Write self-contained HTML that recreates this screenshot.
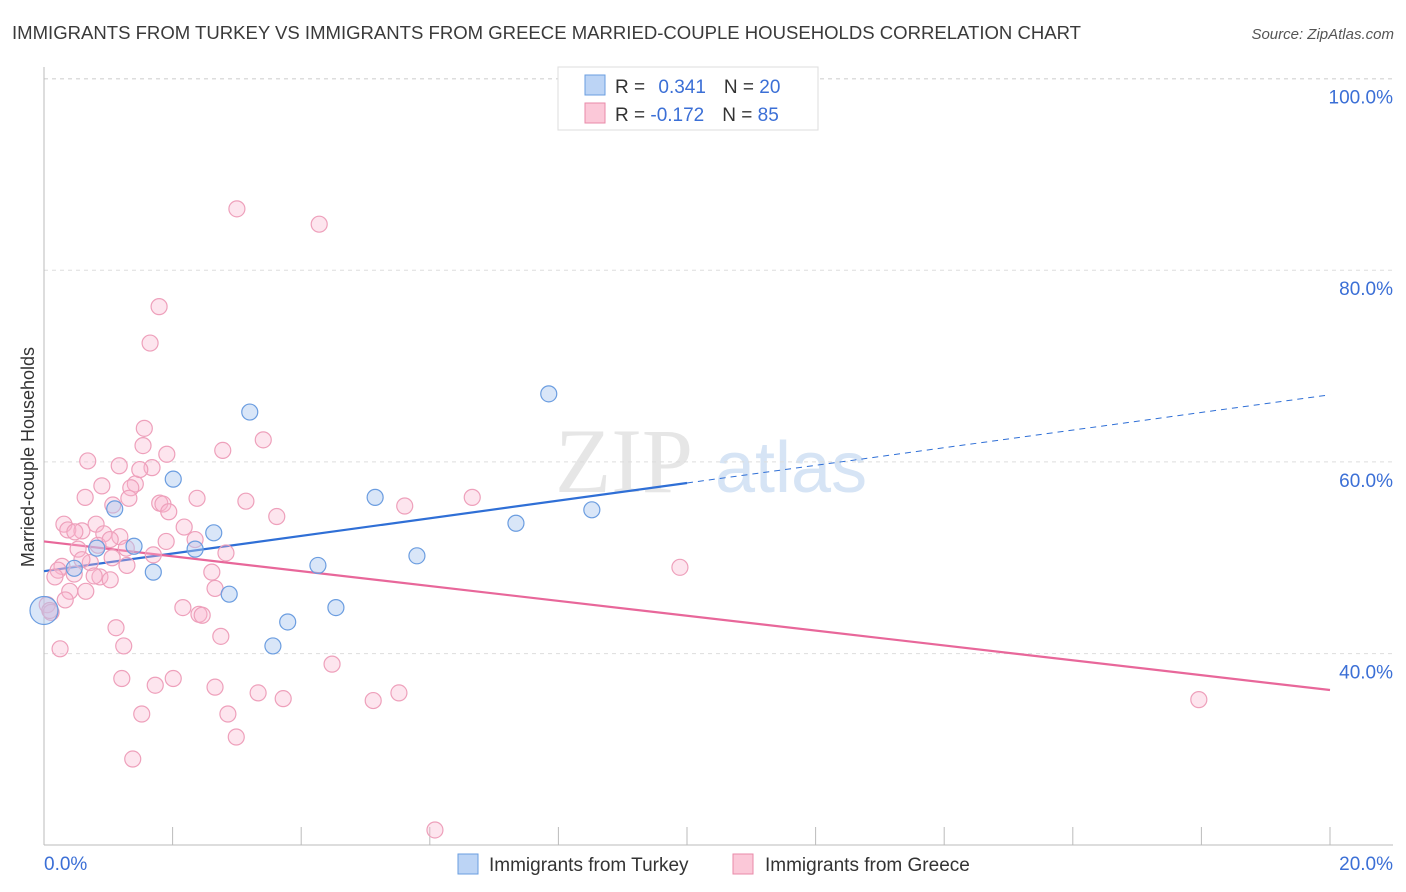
<!DOCTYPE html>
<html><head><meta charset="utf-8"><style>
body{margin:0;background:#fff;font-family:"Liberation Sans",sans-serif;}
svg{display:block}
</style></head><body>
<svg id="chart" width="1406" height="892" xmlns="http://www.w3.org/2000/svg">
<text x="12" y="39" font-size="18" fill="#3a3a3a" textLength="1069" lengthAdjust="spacingAndGlyphs">IMMIGRANTS FROM TURKEY VS IMMIGRANTS FROM GREECE MARRIED-COUPLE HOUSEHOLDS CORRELATION CHART</text>
<text x="1394" y="39" font-size="15" fill="#555" text-anchor="end" font-style="italic">Source: ZipAtlas.com</text>
<text x="555" y="492" font-size="92" fill="#e6e6e6" font-family="Liberation Serif">ZIP</text>
<text x="715" y="492" font-size="72" fill="#d6e4f5">atlas</text>
<g id="grid"></g><g id="axes"></g><g id="lines"></g><g id="pts"></g>
<text transform="translate(34,457) rotate(-90)" font-size="18" fill="#333" text-anchor="middle">Married-couple Households</text>
<g>
<rect x="558" y="67" width="260" height="63" fill="#fff" stroke="#ddd"/>
<rect x="585" y="75" width="20" height="20" fill="#bcd4f5" stroke="#6a9ee0"/>
<rect x="585" y="103" width="20" height="20" fill="#fbc8d8" stroke="#e88aa8"/>
<text x="615" y="93" font-size="19" fill="#333">R = <tspan fill="#3b6fd6" dx="8">0.341</tspan><tspan dx="18" fill="#333">N = </tspan><tspan fill="#3b6fd6">20</tspan></text>
<text x="615" y="121" font-size="19" fill="#333">R = <tspan fill="#3b6fd6">-0.172</tspan><tspan dx="18" fill="#333">N = </tspan><tspan fill="#3b6fd6">85</tspan></text>
</g>
<g>
<rect x="458" y="854" width="20" height="20" fill="#bcd4f5" stroke="#6a9ee0"/>
<text x="489" y="871" font-size="19" fill="#333">Immigrants from Turkey</text>
<rect x="733" y="854" width="20" height="20" fill="#fbc8d8" stroke="#e88aa8"/>
<text x="765" y="871" font-size="19" fill="#333">Immigrants from Greece</text>
</g>
</svg>
<script>
const yTicks=[40,60,80,100];
const yTickLabels=["40.0%","60.0%","80.0%","100.0%"];
const xTicks=[0,2,4,6,8,10,12,14,16,18,20];
const turkeyX=[0,0.47,0.82,1.10,1.40,1.70,2.01,2.35,2.64,2.88,3.20,3.56,3.79,4.26,4.54,5.15,5.80,7.34,7.85,8.52];
const turkeyY=[44.5,48.9,51.0,55.1,51.2,48.5,58.2,50.9,52.6,46.2,65.2,40.8,43.3,49.2,44.8,56.3,50.2,53.6,67.1,55.0];
const greecePx=[[237,209],[319,224],[159,307],[150,343],[144,428],[143,446],[223,450],[167,454],[263,440],[88,461],[119,466],[152,468],[102,486],[135,484],[131,488],[85,497],[197,498],[129,498],[246,501],[160,503],[113,505],[163,504],[169,512],[405,506],[472,497],[277,517],[64,524],[96,524],[68,530],[184,527],[82,531],[75,532],[104,534],[120,537],[166,541],[98,545],[126,548],[78,549],[153,555],[112,558],[226,553],[127,565],[90,563],[62,566],[58,570],[74,574],[100,577],[94,576],[55,577],[110,580],[212,572],[215,588],[86,591],[70,591],[47,605],[51,612],[183,608],[199,614],[202,615],[116,628],[221,636],[124,646],[60,649],[332,664],[122,679],[173,679],[155,685],[215,687],[258,693],[283,699],[373,701],[399,693],[142,714],[228,714],[236,737],[133,759],[435,830],[680,567],[1199,700],[50,610],[82,560],[140,470],[110,540],[65,600],[195,540]];
const greeceX=greecePx.map(p=>+((p[0]-44)/64.3).toFixed(2));
const greeceY=greecePx.map(p=>+((1037-p[1])/9.585).toFixed(1));
const turkeyTrend=[48.6,67.0];
const greeceTrend=[51.7,36.2];
const X=v=>44+v*64.3, Y=v=>1037-v*9.585;
const NS="http://www.w3.org/2000/svg";
function mk(tag,attrs,parent){const e=document.createElementNS(NS,tag);for(const k in attrs)e.setAttribute(k,attrs[k]);document.getElementById(parent).appendChild(e);return e;}
yTicks.forEach((t,i)=>{
 const g=mk('line',{x1:44,x2:1393,y1:Y(t),y2:Y(t),stroke:'#ddd','stroke-dasharray':'4,4'},'grid');
 
 
 const l=mk('text',{x:1393,y:Y(t)+25,'font-size':19,fill:'#3b6fd6','text-anchor':'end'},'axes');
 l.textContent=yTickLabels[i];
 
 
});
const gt=mk('line',{x1:44,x2:1393,y1:79,y2:79,stroke:'#ddd','stroke-dasharray':'4,4'},'grid');


const ya=mk('line',{x1:44,x2:44,y1:67,y2:845,stroke:'#bbb'},'axes');


const xa=mk('line',{x1:44,x2:1393,y1:845,y2:845,stroke:'#bbb'},'axes');


xTicks.forEach(t=>{const e=mk('line',{x1:X(t),x2:X(t),y1:827,y2:845,stroke:'#bbb'},'axes');
 
 });
const x0=mk('text',{x:44,y:870,'font-size':19,fill:'#3b6fd6'},'axes');x0.textContent='0.0%';


const x1=mk('text',{x:1393,y:870,'font-size':19,fill:'#3b6fd6','text-anchor':'end'},'axes');x1.textContent='20.0%';


greeceX.forEach((x,i)=>{const c=mk('circle',{cx:X(x),cy:Y(greeceY[i]),r:8,fill:'rgba(248,180,205,0.35)',stroke:'#eea0bb','stroke-width':1.2},'pts');
 
 });
turkeyX.forEach((x,i)=>{const c=mk('circle',{cx:X(x),cy:Y(turkeyY[i]),r:i==0?14:8,fill:'rgba(170,200,240,0.45)',stroke:'#6b9de0','stroke-width':1.2},'pts');
 
 });
const tm=turkeyTrend[0]+(turkeyTrend[1]-turkeyTrend[0])*0.5;
const l1=mk('line',{x1:X(0),y1:Y(turkeyTrend[0]),x2:X(10),y2:Y(tm),stroke:'#2f6fd6','stroke-width':2.2},'lines');


const l2=mk('line',{x1:X(10),y1:Y(tm),x2:X(20),y2:Y(turkeyTrend[1]),stroke:'#2f6fd6','stroke-width':1,'stroke-dasharray':'6,5'},'lines');


const l3=mk('line',{x1:X(0),y1:Y(greeceTrend[0]),x2:X(20),y2:Y(greeceTrend[1]),stroke:'#e8679a','stroke-width':2.2},'lines');


</script>
</body></html>
